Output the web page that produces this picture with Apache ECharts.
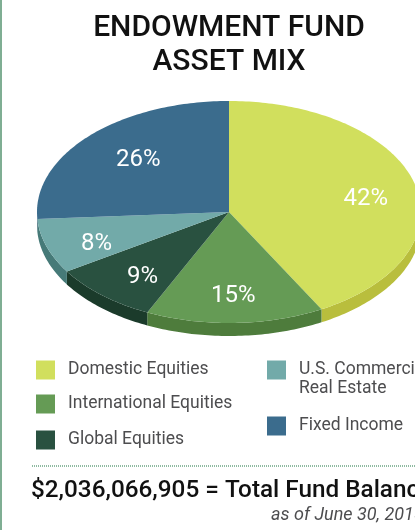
<!DOCTYPE html>
<html>
<head>
<meta charset="utf-8">
<style>html,body{margin:0;padding:0;background:#fff}#main{width:415px;height:530px}</style>
<script src="https://cdn.jsdelivr.net/npm/echarts@6/dist/echarts.min.js"></script>
</head>
<body>
<div id="main"></div>
<script>
var names = ['Domestic Equities', 'International Equities', 'Global Equities', 'U.S. Commercial Real Estate', 'Fixed Income'];
var shares = [42, 15, 9, 8, 26];
var totalText = '$2,036,066,905 = Total Fund Balance';
var asOfText = 'as of June 30, 2015';

var topColors = ['#d1df5d', '#659b55', '#295140', '#72aaa9', '#3b6c8d'];
var sideColors = ['#b9be3d', '#4e7c3c', '#1b3b2b', '#467a78', '#2f5670'];

/*ellipse of the tilted pie*/
var cx = 229, cy = 212, rx = 192, ry = 111, depth = 13;
var fontName = 'Roboto';
var labelNudge = [[3, 7], [0, 4], [5, 5], [-1, 7], [10, 3]];
var legendPos = [[36, 359], [36, 393], [36, 429], [267, 359], [267, 415]];

var sum = 0;
for (var i = 0; i < shares.length; i++) sum += shares[i];
var startShare = [], run = 0;
for (var i = 0; i < shares.length; i++) {
  startShare.push(run);
  run += shares[i];
}

function pt(deg, drop) {
  var r = deg * Math.PI / 180;
  return [cx + rx * Math.sin(r), cy - ry * Math.cos(r) + (drop || 0)];
}

function arc(a0, a1, drop) {
  var pts = [];
  for (var a = a0; a < a1; a += 1) pts.push(pt(a, drop));
  pts.push(pt(a1, drop));
  return pts;
}

function sliceRender(idx) {
  return function (params, api) {
    var a0 = startShare[idx] / sum * 360;
    var a1 = a0 + api.value(0) / sum * 360;
    var children = [];
    /*side wall, only the front half shows*/
    var s0 = Math.max(a0, 90), s1 = Math.min(a1, 270);
    if (s1 > s0) {
      children.push({
        type: 'polygon',
        shape: {points: arc(s0, s1, 0).concat(arc(s0, s1, depth).reverse())},
        style: {fill: sideColors[idx]}
      });
    }
    children.push({
      type: 'polygon',
      shape: {points: [[cx, cy]].concat(arc(a0, a1, 0))},
      style: {fill: topColors[idx]}
    });
    var mid = pt((a0 + a1) / 2, 0);
    children.push({
      type: 'text',
      style: {
        x: cx + (mid[0] - cx) * 0.72 + labelNudge[idx][0],
        y: cy + (mid[1] - cy) * 0.72 + labelNudge[idx][1],
        text: api.value(0) + '%',
        fill: '#fff',
        font: '24px ' + fontName,
        align: 'center',
        verticalAlign: 'middle'
      }
    });
    return {type: 'group', children: children};
  };
}

var series = [], legends = [];
for (var i = 0; i < names.length; i++) {
  series.push({
    type: 'custom',
    name: names[i],
    coordinateSystem: 'none',
    silent: true,
    itemStyle: {color: topColors[i]},
    data: [[shares[i]]],
    renderItem: sliceRender(i)
  });
  legends.push({
    data: [names[i]],
    left: legendPos[i][0],
    top: i == 3 ? legendPos[i][1] - 19 : legendPos[i][1],
    padding: 0,
    icon: 'rect',
    itemWidth: 19,
    itemHeight: 19,
    selectedMode: false,
    formatter: function (n) {
      return n.indexOf('U.S.') == 0 ? '\nU.S. Commercial\nReal Estate' : n;
    },
    textStyle: {
      fontFamily: fontName,
      fontSize: 17.5,
      lineHeight: 19,
      color: '#4d4d4f',
      padding: [3, 0, 0, 8]
    }
  });
}

var chart = echarts.init(document.getElementById('main'), null, {renderer: 'canvas'});
chart.setOption({
  animation: false,
  backgroundColor: '#fff',
  title: {
    text: 'ENDOWMENT FUND\nASSET MIX',
    left: 229,
    top: 11,
    textAlign: 'center',
    padding: 0,
    textStyle: {
      fontFamily: fontName,
      fontSize: 30,
      fontWeight: 500,
      lineHeight: 34,
      color: '#111'
    }
  },
  legend: legends,
  series: series,
  graphic: [
    {type: 'rect', shape: {x: 0, y: 0, width: 2, height: 530}, style: {fill: '#7fae93'}},
    {type: 'line', shape: {x1: 32, y1: 466, x2: 415, y2: 466}, style: {stroke: '#8fbaa1', lineWidth: 2, lineDash: [1, 1]}},
    {type: 'text', x: 31, y: 491, style: {text: totalText, fill: '#111', font: '500 24.3px ' + fontName, verticalAlign: 'middle'}},
    {type: 'text', x: 271, y: 515, style: {text: asOfText, fill: '#4d4d4f', font: 'italic 18px ' + fontName, verticalAlign: 'middle'}}
  ]
});
</script>
</body>
</html>
